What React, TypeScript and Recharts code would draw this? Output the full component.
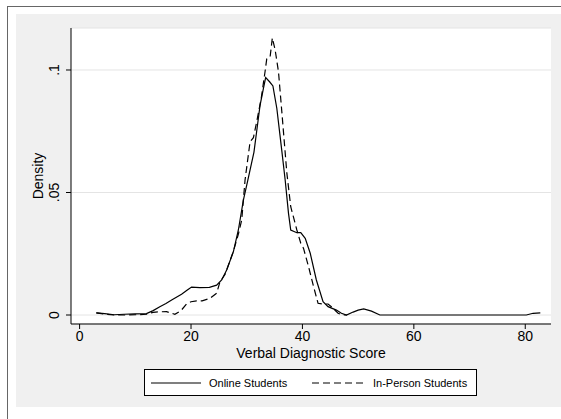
import React from 'react';
import { LineChart, Line, XAxis, YAxis, CartesianGrid } from 'recharts';

// kernel density estimates
const onlineX = [3.0, 4.5, 6.2, 8.0, 10.0, 12.0, 13.2, 14.4, 15.5, 16.6, 18.3, 19.4, 20.1, 21.6, 23.3, 24.6, 25.5, 26.4, 27.6, 28.5, 29.4, 30.2, 31.3, 32.4, 33.0, 33.4, 34.1, 34.7, 35.4, 36.3, 36.9, 37.5, 37.9, 39.0, 39.7, 40.5, 41.4, 42.5, 43.7, 44.6, 46.1, 47.0, 47.9, 49.1, 50.0, 51.0, 52.4, 53.9, 60.0, 70.0, 80.2, 81.4, 82.7];
const onlineY = [0.0009, 0.0006, 0.0001, 0.0003, 0.0005, 0.0006, 0.0018, 0.0034, 0.0047, 0.0062, 0.0085, 0.0103, 0.0114, 0.0112, 0.0113, 0.0122, 0.0143, 0.0184, 0.0258, 0.0347, 0.0469, 0.0551, 0.0665, 0.0857, 0.0925, 0.0969, 0.0952, 0.0935, 0.0844, 0.067, 0.0551, 0.0415, 0.0347, 0.0336, 0.0336, 0.0313, 0.0252, 0.0143, 0.0054, 0.0034, 0.002, 0.0007, 0.0, 0.0012, 0.002, 0.0025, 0.0016, 0.0, 0.0, 0.0, 0.0, 0.0007, 0.0009];

const inPersonX = [3.0, 4.5, 6.2, 8.0, 10.0, 12.0, 13.2, 14.4, 15.6, 16.4, 17.1, 18.2, 19.2, 20.0, 21.0, 22.0, 23.4, 24.6, 25.2, 26.1, 27.6, 28.5, 29.1, 29.7, 30.6, 31.2, 31.8, 32.6, 33.3, 33.6, 34.2, 34.6, 35.1, 35.7, 36.3, 37.2, 37.9, 39.0, 39.7, 40.2, 41.1, 42.0, 42.8, 43.7, 44.6, 45.2, 46.4, 47.2, 48.0];
const inPersonY = [0.0009, 0.0004, 0.0, 0.0, 0.0001, 0.0003, 0.0011, 0.0013, 0.0014, 0.0008, 0.0003, 0.0018, 0.0045, 0.0054, 0.0058, 0.0058, 0.0068, 0.0089, 0.0135, 0.0165, 0.026, 0.033, 0.0388, 0.0551, 0.0707, 0.0724, 0.079, 0.0884, 0.0995, 0.1046, 0.1054, 0.1131, 0.1082, 0.0993, 0.083, 0.058, 0.0442, 0.0347, 0.0293, 0.0272, 0.0197, 0.0116, 0.0048, 0.0045, 0.0045, 0.0034, 0.0007, 0.0, 0.0];

const xTicks = [0, 20, 40, 60, 80];
const yTicks = [0, 0.05, 0.1];
const yTickLabels = ['0', '.05', '.1'];
const seriesNames = ['Online Students', 'In-Person Students'];
const xTitle = 'Verbal Diagnostic Score';
const yTitle = 'Density';

const onlineData = onlineX.map((x, i) => ({ x, y: onlineY[i] }));
const inPersonData = inPersonX.map((x, i) => ({ x, y: inPersonY[i] }));

const FONT = '"Liberation Sans", Arial, Helvetica, sans-serif';

const YTick = (props: any) => {
    const { x, y, payload } = props;
    const label = yTickLabels[yTicks.indexOf(payload.value)];
    return (
        <text x={x} y={y} transform={`rotate(-90 ${x} ${y})`} textAnchor="middle"
            fontSize={14} fontFamily={FONT} fill="#000">
            {label}
        </text>
    );
};

const App: React.FC = () => {
    return (
        <div style={{ position: 'absolute', left: 0, top: 0, width: 561, height: 419, background: '#fff', overflow: 'hidden', fontFamily: FONT }}>
            <div style={{ position: 'absolute', left: 7, top: 6, width: 600, height: 500, borderLeft: '1px solid #666', borderTop: '1px solid #666' }} />
            <div style={{ position: 'absolute', left: 16, top: 14, width: 545, height: 393, background: '#f0f0f0' }} />
            <div style={{ position: 'absolute', left: 0, top: 0 }}>
                <LineChart width={561} height={419} margin={{ top: 28, right: 10, bottom: 61, left: 0 }}>
                    <CartesianGrid vertical={false} stroke="#e4e4e4" fill="#fff" />
                    <XAxis
                        type="number"
                        dataKey="x"
                        domain={[-1.544, 84.62]}
                        allowDataOverflow
                        ticks={xTicks}
                        tickSize={5}
                        tickMargin={2}
                        height={34}
                        stroke="#000"
                        tick={{ fontSize: 14, fill: '#000', fontFamily: FONT }}
                        label={(p: any) => {
                            const vb = p.viewBox || { x: 71, width: 480, y: 324 };
                            return (
                                <text x={vb.x + vb.width / 2} y={358} textAnchor="middle" fontSize={14} fontFamily={FONT} fill="#000">
                                    {xTitle}
                                </text>
                            );
                        }}
                    />
                    <YAxis
                        type="number"
                        domain={[-0.00367, 0.11714]}
                        allowDataOverflow
                        ticks={yTicks}
                        width={71}
                        tickSize={5}
                        tickMargin={7}
                        stroke="#000"
                        tick={<YTick />}
                        label={() => (
                            <text x={43} y={176} transform="rotate(-90 43 176)" textAnchor="middle" fontSize={14} fontFamily={FONT} fill="#000">
                                {yTitle}
                            </text>
                        )}
                    />
                    <Line data={onlineData} dataKey="y" name={seriesNames[0]} type="linear" stroke="#000"
                        strokeWidth={1.2} dot={false} activeDot={false} isAnimationActive={false} />
                    <Line data={inPersonData} dataKey="y" name={seriesNames[1]} type="linear" stroke="#000"
                        strokeWidth={1.2} strokeDasharray="7 4" dot={false} activeDot={false} isAnimationActive={false} />
                </LineChart>
            </div>
            <div style={{ position: 'absolute', left: 144, top: 369, width: 331, height: 25, background: '#fff', border: '1px solid #000' }}>
                <svg width={331} height={25} style={{ position: 'absolute', left: 0, top: 0 }}>
                    <line x1={6} y1={13} x2={56} y2={13} stroke="#000" strokeWidth={1.2} />
                    <text x={64} y={17} fontSize={11} fontFamily={FONT} fill="#000">{seriesNames[0]}</text>
                    <line x1={167} y1={13} x2={218} y2={13} stroke="#000" strokeWidth={1.2} strokeDasharray="7 4" />
                    <text x={228} y={17} fontSize={11} fontFamily={FONT} fill="#000">{seriesNames[1]}</text>
                </svg>
            </div>
        </div>
    );
};

export default App;
